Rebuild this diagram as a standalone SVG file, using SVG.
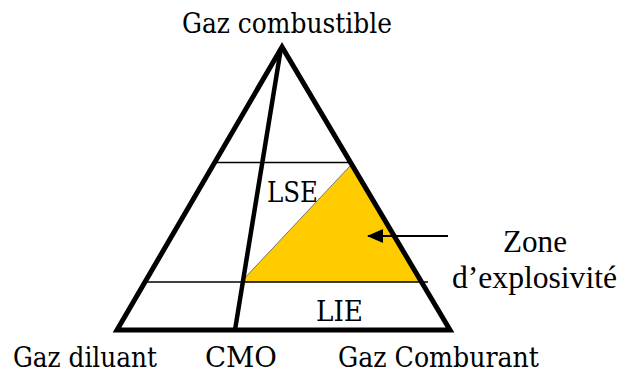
<svg xmlns="http://www.w3.org/2000/svg" width="623" height="376" viewBox="0 0 623 376">
<style>
.lbl{font-family:"DejaVu Serif","Liberation Serif",serif;font-size:27px;fill:#000}
.tm{font-family:"Liberation Serif","Times New Roman",serif;font-size:31px;fill:#000}
.thin{stroke:#000;stroke-width:1.6;fill:none}
</style>
<defs>
<marker id="ah" markerWidth="16" markerHeight="14" refX="15" refY="7" orient="auto" markerUnits="userSpaceOnUse">
<polygon points="0,0 16,7 0,14" fill="#000"/>
</marker>
</defs>
<rect width="623" height="376" fill="#fff"/>
<g id="zone">
<polygon points="241,282 350,166 422,282" fill="#FFCC00"/>
<line x1="241" y1="282" x2="350" y2="166" stroke="#777" stroke-width="1"/>
</g>
<g id="lines">
<line class="thin" x1="213" y1="162.5" x2="353" y2="162.5"/>
<line class="thin" x1="143" y1="282" x2="428" y2="282"/>
<line x1="281" y1="48" x2="235" y2="330" stroke="#000" stroke-width="4.5"/>
<polygon points="282,47 117,330 450,330" fill="none" stroke="#000" stroke-width="5" stroke-linejoin="miter"/>
</g>
<g id="connectors">
<line x1="448" y1="236" x2="368" y2="236" stroke="#000" stroke-width="1.8" marker-end="url(#ah)"/>
</g>
<g id="labels">
<text class="lbl" x="182" y="33" textLength="210" lengthAdjust="spacingAndGlyphs">Gaz combustible</text>
<text class="lbl" x="267" y="202" font-size="29" textLength="51" lengthAdjust="spacingAndGlyphs">LSE</text>
<text class="lbl" x="316" y="321" font-size="29" textLength="47" lengthAdjust="spacingAndGlyphs">LIE</text>
<text class="lbl" x="13" y="367" textLength="144" lengthAdjust="spacingAndGlyphs">Gaz diluant</text>
<text class="lbl" x="205" y="367" textLength="72" lengthAdjust="spacingAndGlyphs">CMO</text>
<text class="lbl" x="338" y="367" textLength="201" lengthAdjust="spacingAndGlyphs">Gaz Comburant</text>
<text class="tm" x="535" y="252" text-anchor="middle" textLength="64" lengthAdjust="spacingAndGlyphs">Zone</text>
<text class="tm" x="534.5" y="288" text-anchor="middle" textLength="165" lengthAdjust="spacingAndGlyphs">d’explosivité</text>
</g>
</svg>
